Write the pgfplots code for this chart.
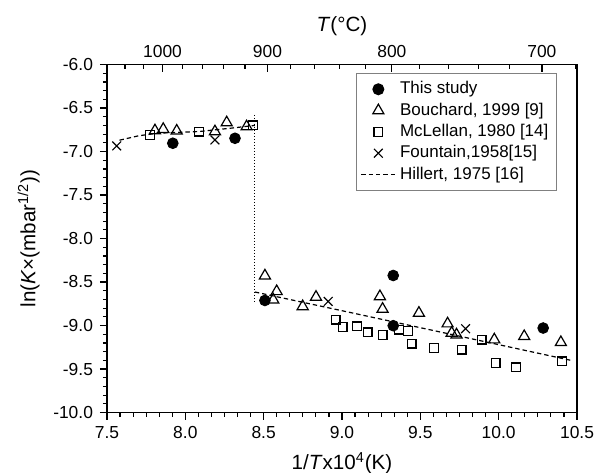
\documentclass[border=0pt]{standalone}
\usepackage{fontspec}
\setmainfont{Liberation Sans}
\usepackage{pgfplots}
\pgfplotsset{compat=1.18}
\begin{document}
\begin{tikzpicture}
\begin{axis}[
  at={(0,0)}, anchor=south west,
  scale only axis, width=235pt, height=174pt,
  xmin=7.5, xmax=10.5, ymin=-10, ymax=-6,
  xtick={7.5,8,8.5,9,9.5,10,10.5},
  ytick={-10,-9.5,-9,-8.5,-8,-7.5,-7,-6.5,-6},
  minor x tick num=5, minor y tick num=4,
  tick pos=left,
  tick align=outside,
  major tick length=3.5pt, minor tick length=2pt,
  axis line style={line width=0.8pt},
  every tick/.style={black, line width=0.6pt},
  /pgf/number format/assume math mode=true,
  x tick label style={/pgf/number format/.cd, fixed, fixed zerofill, precision=1, /tikz/.cd},
  y tick label style={/pgf/number format/.cd, fixed, fixed zerofill, precision=1, /tikz/.cd},
  tick label style={font=\fontsize{8.7}{10}\selectfont},
  label style={font=\fontsize{10.3}{12}\selectfont},
  xlabel={1/\textit{T}x10\textsuperscript{4}(K)},
  ylabel={ln(\textit{K}×(mbar\textsuperscript{1/2}))},
  legend style={at={(1,1)}, anchor=north east, xshift=-10pt, yshift=-4.25pt,
    draw=gray, line width=0.6pt, font=\fontsize{8.5}{10}\selectfont,
    row sep=-1pt, inner sep=2pt},
  legend cell align=left,
]
\addplot[only marks, mark=*, mark size=2.7pt, black] coordinates {
(7.920,-6.905) (8.317,-6.848) (8.508,-8.712) (9.327,-8.425) (9.327,-9.002) (10.284,-9.029)
};
\addlegendentry{This study}
\addplot[only marks, mark=triangle, mark size=3.2pt, black, mark options={line width=0.6pt}] coordinates {
(7.806,-6.760) (7.859,-6.744) (7.945,-6.763) (8.189,-6.771) (8.264,-6.668) (8.391,-6.714)
(8.508,-8.428) (8.583,-8.608) (8.561,-8.704) (8.749,-8.781) (8.834,-8.673) (9.242,-8.666)
(9.259,-8.811) (9.491,-8.857) (9.674,-8.979) (9.700,-9.086) (9.731,-9.106) (9.972,-9.163)
(10.163,-9.125) (10.397,-9.194)
};
\addlegendentry{Bouchard, 1999 [9]}
\addplot[only marks, mark=square, mark size=2.2pt, black, mark options={line width=0.6pt}] coordinates {
(7.774,-6.809) (8.089,-6.771) (8.430,-6.700)
(8.959,-8.933) (9.004,-9.017) (9.097,-9.010) (9.164,-9.079) (9.259,-9.106) (9.365,-9.048)
(9.423,-9.060) (9.444,-9.209) (9.587,-9.258) (9.764,-9.278) (9.891,-9.163) (9.980,-9.431)
(10.110,-9.481) (10.406,-9.412)
};
\addlegendentry{McLellan, 1980 [14]}
\addplot[only marks, mark=x, mark size=3.1pt, black, mark options={line width=0.6pt}] coordinates {
(7.562,-6.936) (8.189,-6.867) (8.912,-8.723) (9.789,-9.037)
};
\addlegendentry{Fountain,1958[15]}
\addplot[black, line width=0.6pt, dash pattern=on 2.2pt off 1.5pt] coordinates {
(7.58,-6.87) (7.70,-6.82) (7.82,-6.79) (8.09,-6.77) (8.30,-6.73) (8.444,-6.70)
};
\addlegendentry{Hillert, 1975 [16]}
\addplot[black, line width=0.6pt, dash pattern=on 2.2pt off 1.5pt, forget plot] coordinates {
(8.444,-8.615) (9.0,-8.83) (9.5,-9.025) (10.0,-9.22) (10.46,-9.40)
};
\addplot[black, line width=0.6pt, dash pattern=on 0.5pt off 1pt, forget plot] coordinates {
(8.444,-6.58) (8.444,-8.74)
};
\end{axis}
\begin{axis}[
  at={(0,0)}, anchor=south west,
  scale only axis, width=235pt, height=174pt,
  xmin=7.5, xmax=10.5, ymin=0, ymax=1,
  axis x line*=top, axis y line=none,
  xtick={7.8545,8.5241,9.3184,10.2759},
  xticklabels={1000,900,800,700},
  minor xtick={7.6153,7.7331,7.9799,8.1093,8.2430,8.3812,8.6719,8.8250,8.9835,9.1479,9.4953,9.6791,9.8702,10.0690,10.4915},
  tick align=inside,
  major tick length=3.5pt, minor tick length=2pt,
  axis line style={line width=0.8pt},
  every tick/.style={black, line width=0.6pt},
  tick label style={font=\fontsize{8.7}{10}\selectfont},
  label style={font=\fontsize{10.3}{12}\selectfont},
  xlabel={\textit{T}(°C)},
  xlabel style={yshift=-2pt},
]
\addplot[draw=none] coordinates {(8,0.5)};
\end{axis}
\pgfresetboundingbox
\useasboundingbox (-53.5pt,-29.75pt) rectangle (245pt,206.25pt);
\end{tikzpicture}
\end{document}
